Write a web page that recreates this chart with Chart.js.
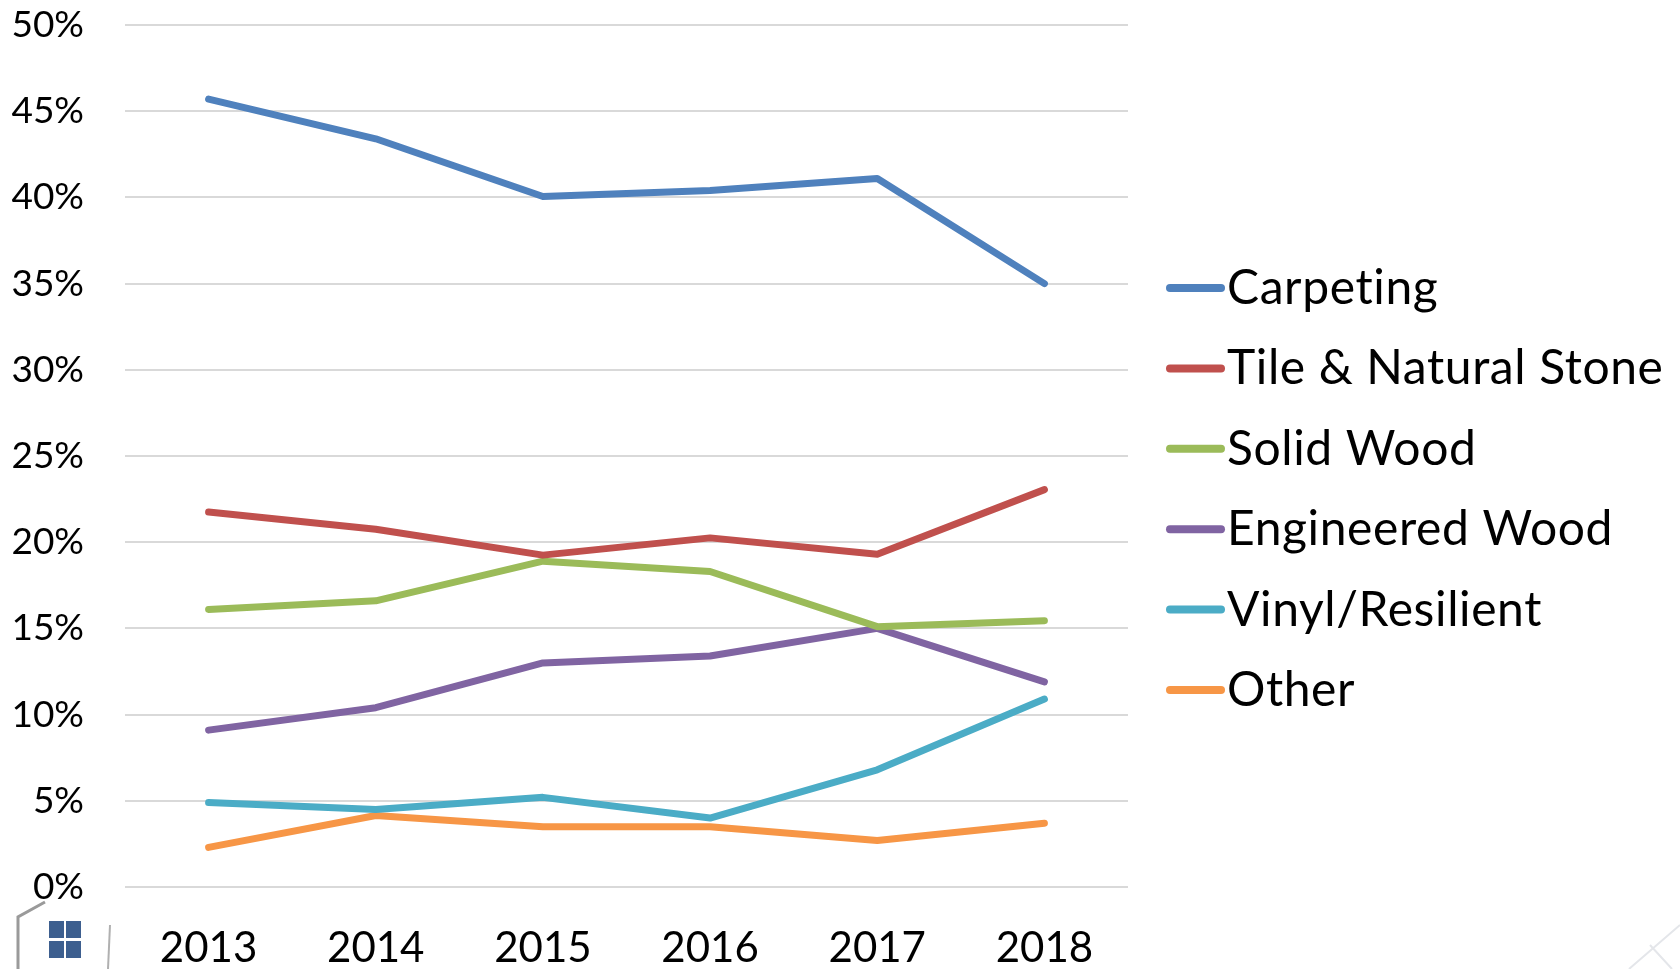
<!DOCTYPE html>
<html><head><meta charset="utf-8">
<style>html,body{margin:0;padding:0;background:#fff}#wrap{width:1680px;height:969px;position:relative}</style>
<script src="https://cdn.jsdelivr.net/npm/chart.js@4/dist/chart.umd.min.js"></script>
</head><body><div id="wrap"><canvas id="c" width="1680" height="969"></canvas></div>
<script>
const years=['2013','2014','2015','2016','2017','2018'];
const carpeting=[45.7,43.4,40.05,40.4,41.1,35.0];
const tileStone=[21.75,20.75,19.25,20.25,19.3,23.05];
const solidWood=[16.1,16.6,18.9,18.3,15.1,15.45];
const engineeredWood=[9.1,10.4,13.0,13.4,15.0,11.9];
const vinylResilient=[4.9,4.5,5.2,4.0,6.8,10.9];
const other=[2.3,4.15,3.5,3.5,2.7,3.7];
const FONT='Lato, sans-serif';
const mk=(label,data,color)=>({label,data,borderColor:color,backgroundColor:color,borderWidth:7,pointRadius:0,tension:0,borderCapStyle:'round',borderJoinStyle:'round',fill:false});
const sideLegend={id:'sideLegend',afterDraw(chart){
  const ctx=chart.ctx;ctx.save();
  chart.data.datasets.forEach((d,i)=>{
    const y=288+i*80.4;
    ctx.strokeStyle=d.borderColor;ctx.lineWidth=8;ctx.lineCap='round';
    ctx.beginPath();ctx.moveTo(1170,y);ctx.lineTo(1221,y);ctx.stroke();
    ctx.fillStyle='#000';ctx.font='48px '+FONT;ctx.letterSpacing='0.6px';ctx.textBaseline='alphabetic';ctx.textAlign='left';
    ctx.fillText(d.label,1227,y+16);
  });
  ctx.restore();
}};
const logo={id:'logo',beforeDraw(chart){
  const ctx=chart.ctx;ctx.save();
  ctx.strokeStyle='#9a9a9a';ctx.lineWidth=3;
  ctx.beginPath();ctx.moveTo(18,969);ctx.lineTo(18,917);ctx.lineTo(45,902);ctx.stroke();
  ctx.lineWidth=2;ctx.strokeStyle='#b0b0b0';
  ctx.beginPath();ctx.moveTo(110,925);ctx.lineTo(108,969);ctx.stroke();
  ctx.fillStyle='#3d5f8f';
  [[49,921],[66,921],[49,941],[66,941]].forEach(p=>ctx.fillRect(p[0],p[1],15,17));
  ctx.strokeStyle='#e4e6ea';ctx.lineWidth=2;
  ctx.beginPath();ctx.moveTo(1629,969);ctx.lineTo(1680,925);ctx.moveTo(1650,945);ctx.lineTo(1672,969);ctx.stroke();
  ctx.restore();
}};
new Chart(document.getElementById('c'),{
  type:'line',
  data:{labels:years,datasets:[
    mk('Carpeting',carpeting,'#4F81BD'),
    mk('Tile & Natural Stone',tileStone,'#C0504D'),
    mk('Solid Wood',solidWood,'#9BBB59'),
    mk('Engineered Wood',engineeredWood,'#8064A2'),
    mk('Vinyl/Resilient',vinylResilient,'#4BACC6'),
    mk('Other',other,'#F79646')]},
  options:{responsive:false,animation:false,
    layout:{padding:{top:25,right:552,bottom:0,left:0}},
    plugins:{legend:{display:false},tooltip:{enabled:false},title:{display:false}},
    scales:{
      x:{offset:true,grid:{display:false,drawTicks:false},border:{display:false},
         ticks:{color:'#000',font:{family:FONT,size:42},padding:36,maxRotation:0,autoSkip:false},
         afterFit(s){s.height=82;s.paddingLeft=0;s.paddingRight=0;}},
      y:{min:0,max:50,grid:{color:'#D9D9D9',lineWidth:2,drawTicks:false},border:{display:false},
         ticks:{stepSize:5,color:'#000',font:{family:FONT,size:37},padding:41,callback:v=>v+'%'},
         afterFit(s){s.width=125;s.paddingTop=0;s.paddingBottom=0;}}
    }},
  plugins:[logo,sideLegend]
});
</script></body></html>
